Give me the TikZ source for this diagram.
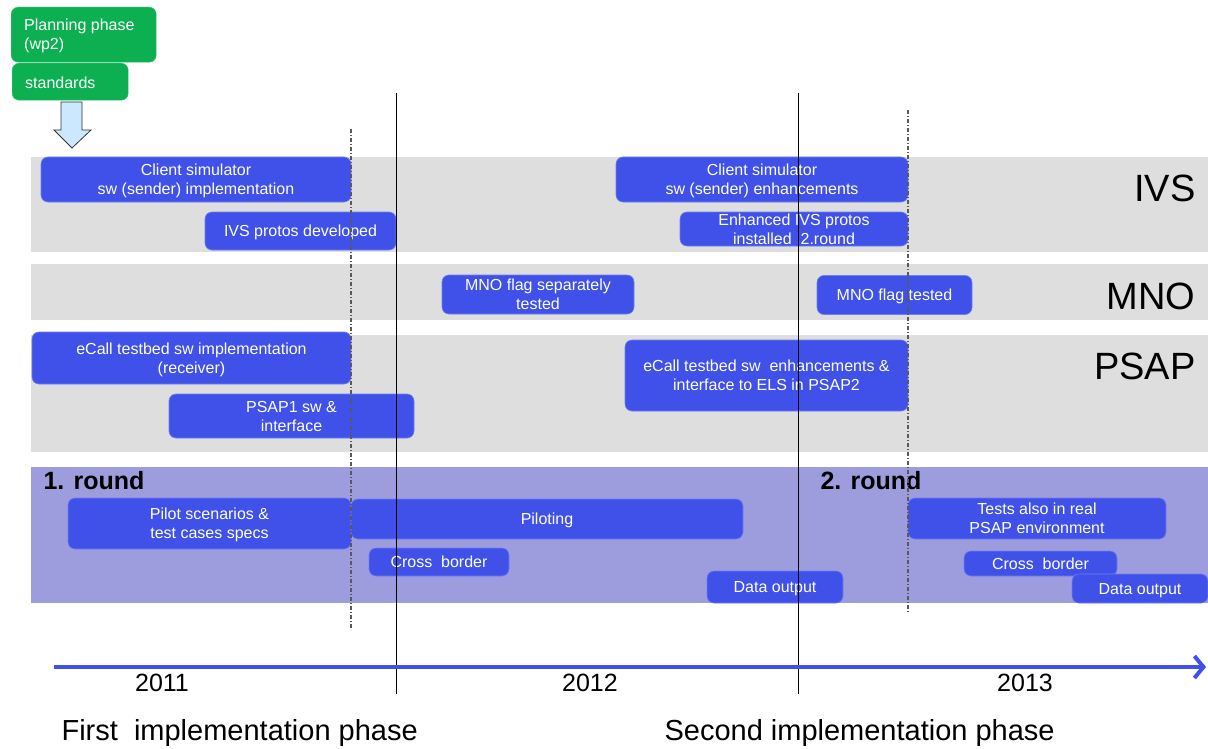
\documentclass[tikz,border=0pt]{standalone}
\usepackage{fontspec}
\setmainfont{Liberation Sans}
\usetikzlibrary{arrows.meta}
\definecolor{bblue}{RGB}{63,81,232}
\definecolor{bedge}{RGB}{110,125,240}
\definecolor{ggreen}{RGB}{12,176,80}
\definecolor{band}{RGB}{222,222,222}
\definecolor{pband}{RGB}{157,157,221}
\definecolor{lblue}{RGB}{204,232,255}
\begin{document}
\begin{tikzpicture}[x=1pt,y=-1pt,
  bx/.style={draw=bedge,line width=0.6pt,fill=bblue,rounded corners=7pt,text=white,
    font=\fontsize{16}{19}\selectfont,align=center,inner sep=0pt,text depth=0pt},
  gbx/.style={draw=ggreen!85!white,fill=ggreen,rounded corners=7pt,anchor=north west,inner sep=0pt},
  gtxt/.style={anchor=west,text=white,font=\fontsize{16}{19}\selectfont,align=left,inner sep=0pt},
  lane/.style={font=\fontsize{38}{42}\selectfont,anchor=east},
  round/.style={font=\bfseries\fontsize{25}{27}\selectfont,anchor=west},
  yr/.style={font=\fontsize{25}{27}\selectfont},
  phase/.style={font=\fontsize{29}{31}\selectfont,anchor=west},
  solidline/.style={line width=1pt,black},
  dashline/.style={line width=1.2pt,black!65,dash pattern=on 4pt off 2pt on 1pt off 2pt}]
\useasboundingbox (0,0) rectangle (1208,749);
% bands
\fill[band] (31,157) rectangle (1208,252);
\fill[band] (31,264) rectangle (1208,320);
\fill[band] (31,335) rectangle (1208,452);
\fill[pband] (31,467) rectangle (1208,603);
% green boxes
\node[gbx,minimum width=145pt,minimum height=55pt] (plan) at (11,7) {};
\node[gtxt] (plant) at (24,36) {Planning phase\\(wp2)};
\node[gbx,minimum width=116pt,minimum height=37pt] (std) at (12,63) {};
\node[gtxt] (stdt) at (25,83) {standards};
% block arrow
\draw[fill=lblue,draw=black!80,line width=0.8pt] (61,102) -- (82,102) -- (82,130) -- (91,130) -- (72,148) -- (54,130) -- (61,130) -- cycle;
% IVS
\node[bx,minimum width=310pt,minimum height=45pt] (cs1) at (196,179.5) {Client simulator\\sw (sender) implementation};
\node[bx,minimum width=191pt,minimum height=38pt] (ivsp) at (300.5,231) {IVS protos developed};
\node[bx,minimum width=292pt,minimum height=45pt] (cs2) at (762,179.5) {Client simulator\\sw (sender) enhancements};
\node[bx,minimum width=228pt,minimum height=34pt] (eivs) at (794,229) {Enhanced IVS protos\\installed\ \ 2.round};
% MNO
\node[bx,minimum width=192pt,minimum height=39pt] (mno1) at (538,294.5) {MNO flag separately\\tested};
\node[bx,minimum width=155pt,minimum height=39pt] (mno2) at (894.5,295) {MNO flag tested};
% PSAP
\node[bx,minimum width=319pt,minimum height=52pt] (ec1) at (191.5,358) {eCall testbed sw implementation\\(receiver)};
\node[bx,minimum width=245pt,minimum height=44pt] (psap1) at (291.5,416) {PSAP1 sw \&\\interface};
\node[bx,minimum width=283pt,minimum height=71pt] (ec2) at (766.5,375.5) {eCall testbed sw\ \ enhancements \&\\interface to ELS in PSAP2};
% rounds
\node[bx,minimum width=283pt,minimum height=51pt] (pilot) at (209.5,523.5) {Pilot scenarios \&\\test cases specs};
\node[bx,minimum width=392pt,minimum height=40pt] (piloting) at (547,519) {Piloting};
\node[bx,minimum width=140pt,minimum height=28pt] (cb1) at (439,562) {Cross\ \ border};
\node[bx,minimum width=136pt,minimum height=32pt] (do1) at (775,587) {Data output};
\node[bx,minimum width=258pt,minimum height=41pt] (tests) at (1037,518.5) {Tests also in real\\PSAP environment};
\node[bx,minimum width=153pt,minimum height=25pt] (cb2) at (1040.5,563.5) {Cross\ \ border};
\node[bx,minimum width=136pt,minimum height=29pt] (do2) at (1140,588.5) {Data output};
% lane labels
\node[lane] (ivs) at (1199,188) {IVS};
\node[lane] (mno) at (1199,296) {MNO};
\node[lane] (psap) at (1199,366) {PSAP};
\node[round] (r1) at (40,481) {1. round};
\node[round] (r2) at (817,481) {2. round};
% vertical lines
\draw[solidline] (396,93) -- (396,694);
\draw[solidline] (798,93) -- (798,694);
\draw[dashline] (351,129) -- (351,630);
\draw[dashline] (908,110) -- (908,612);
% timeline
\draw[bblue,line width=4pt,-{Straight Barb[length=9pt,width=22pt]}] (54,667) -- (1206,667);
\node[yr] (y1) at (162,683) {2011};
\node[yr] (y2) at (590,683) {2012};
\node[yr] (y3) at (1025,683) {2013};
\node[phase] (ph1) at (58,733) {First\ \ implementation phase};
\node[phase] (ph2) at (661,733) {Second implementation phase};
\end{tikzpicture}
\end{document}
